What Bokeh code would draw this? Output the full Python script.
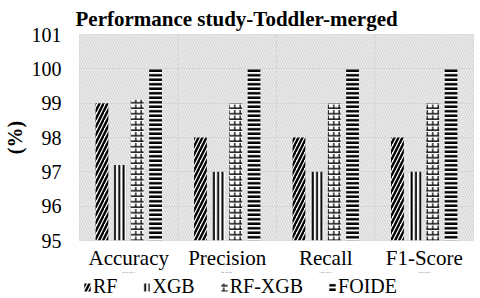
from bokeh.plotting import figure
from bokeh.layouts import column
from bokeh.models import (ColumnDataSource, FactorRange, Range1d, Legend, LegendItem,
                          BoxAnnotation, Span, FixedTicker)
from bokeh.transform import dodge
from bokeh.embed import file_html
from bokeh.resources import INLINE

metrics = ["Accuracy", "Precision", "Recall", "F1-Score"]
rf = [99.0, 98.0, 98.0, 98.0]
xgb = [97.2, 97.0, 97.0, 97.0]
rf_xgb = [99.1, 99.0, 99.0, 99.0]
foide = [100.0, 100.0, 100.0, 100.0]
models = ["RF", "XGB", "RF-XGB", "FOIDE"]
y_ticks = [95, 96, 97, 98, 99, 100, 101]

src = ColumnDataSource(dict(metric=metrics, rf=rf, xgb=xgb, rf_xgb=rf_xgb, foide=foide))

FONT = "Liberation Serif"
GRID = "#d6d6d6"

p = figure(width=480, height=272, x_range=FactorRange(*metrics), y_range=Range1d(95, 101),
           output_backend="svg", toolbar_location=None,
           min_border_left=79, min_border_right=7, min_border_top=32, min_border_bottom=0)

p.title.text = "Performance study-Toddler-merged"
p.title.text_font = FONT
p.title.text_font_size = "21px"
p.title.text_font_style = "bold"
p.title.text_color = "black"
p.title.align = "left"
p.title.offset = -4
p.title.standoff = 8

# background hatch of the plot area
bg = BoxAnnotation(fill_color="#f2f2f2", fill_alpha=1, line_color=None,
                   hatch_pattern="left_diagonal_line", hatch_color="#dadada",
                   hatch_scale=5, hatch_weight=1.5, level="image")
p.add_layout(bg)

p.outline_line_color = GRID
p.outline_line_width = 1
p.xgrid.visible = False
p.ygrid.grid_line_color = GRID
p.ygrid.ticker = FixedTicker(ticks=y_ticks)
for loc in [1, 2, 3]:
    p.add_layout(Span(location=loc, dimension="height", line_color=GRID, line_width=1, level="underlay"))

W = 0.13
styles = [
    dict(hatch_pattern="right_diagonal_line", hatch_scale=8, hatch_weight=2.4),
    dict(hatch_pattern="vertical_line", hatch_scale=4.3, hatch_weight=2),
    dict(hatch_pattern="horizontal_line", hatch_scale=5.5, hatch_weight=1.4),
    dict(hatch_pattern="horizontal_line", hatch_scale=4.5, hatch_weight=2.5),
]
brick = dict(hatch_pattern="vertical_dash", hatch_scale=5.5, hatch_weight=1.3)
base = dict(fill_color="white", line_color=None, hatch_color="black")

offsets = [-0.272, -0.089, 0.086, 0.272]
cols = ["rf", "xgb", "rf_xgb", "foide"]
for off, col, st in zip(offsets, cols, styles):
    p.vbar(x=dodge("metric", off, range=p.x_range), top=col, bottom=95, width=W,
           source=src, **base, **st)
p.vbar(x=dodge("metric", 0.086, range=p.x_range), top="rf_xgb", bottom=95, width=W,
       source=src, fill_alpha=0, line_color=None, hatch_color="black", **brick)

p.yaxis.ticker = FixedTicker(ticks=y_ticks)
for ax in (p.xaxis[0], p.yaxis[0]):
    ax.axis_line_color = None
    ax.major_tick_line_color = None
    ax.minor_tick_line_color = None
    ax.major_tick_out = 0
    ax.major_tick_in = 0
    ax.major_label_text_font = FONT
    ax.major_label_text_color = "black"
p.yaxis.major_label_text_font_size = "20px"
p.xaxis.major_label_text_font_size = "21px"
p.yaxis.major_label_standoff = 18
p.xaxis.major_label_standoff = 5
p.yaxis.axis_label = "(%)"
p.yaxis.axis_label_text_font = FONT
p.yaxis.axis_label_text_font_size = "20px"
p.yaxis.axis_label_text_font_style = "bold"
p.yaxis.axis_label_text_color = "black"
p.yaxis.axis_label_standoff = 3

# legend strip below the chart (proxies share the data but sit outside its view)
lp = figure(width=480, height=26, x_range=FactorRange(*metrics), y_range=Range1d(0, 1),
            output_backend="svg", toolbar_location=None,
            x_axis_location=None, y_axis_location=None,
            min_border_left=79, min_border_right=7, min_border_top=0, min_border_bottom=0)
lp.grid.visible = False
lp.outline_line_color = None
lp.background_fill_alpha = 0
lp.border_fill_alpha = 0
items = []
for name, col, st in zip(models, cols, styles):
    rs = [lp.vbar(x="metric", top=col, bottom=95, width=W, source=src, **base, **st)]
    if name == "RF-XGB":
        rs.append(lp.vbar(x="metric", top=col, bottom=95, width=W, source=src, fill_alpha=0,
                          line_color=None, hatch_color="black", **brick))
    items.append(LegendItem(label=name, renderers=rs))

legend = Legend(items=items, orientation="horizontal", location=(4, 0),
                label_text_font=FONT, label_text_font_size="20px", label_text_color="black",
                glyph_width=8, glyph_height=10, label_standoff=2, spacing=25,
                padding=0, margin=0, border_line_color=None, background_fill_alpha=0)
lp.add_layout(legend)

layout = column(p, lp, spacing=0)
open("out.html", "w").write(file_html(layout, INLINE))
